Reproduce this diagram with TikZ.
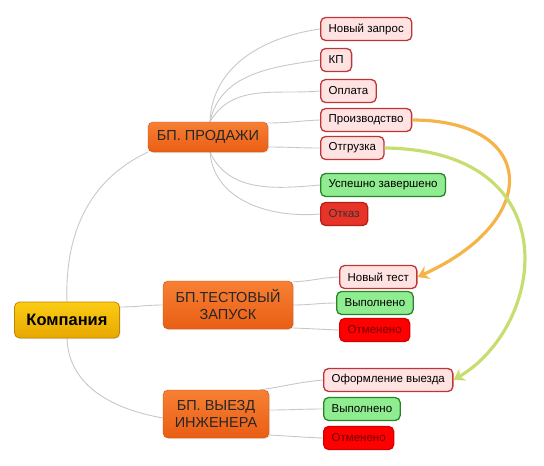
\documentclass[tikz,border=0pt]{standalone}
\usepackage{fontspec}
\setmainfont{Liberation Sans}
\usetikzlibrary{arrows.meta,positioning,backgrounds,shadows}
\definecolor{kgoldt}{RGB}{250,204,20}
\definecolor{kgoldb}{RGB}{232,168,0}
\definecolor{kgoldd}{RGB}{190,135,0}
\definecolor{borgt}{RGB}{246,128,52}
\definecolor{borgb}{RGB}{234,94,20}
\definecolor{borgd}{RGB}{200,80,16}
\definecolor{lpink}{RGB}{255,226,226}
\definecolor{lpinkd}{RGB}{192,52,54}
\definecolor{lgreen}{RGB}{144,236,144}
\definecolor{lgreend}{RGB}{40,132,40}
\definecolor{lred}{RGB}{232,52,40}
\definecolor{lredd}{RGB}{182,30,24}
\definecolor{lcanc}{RGB}{255,0,0}
\definecolor{lcancd}{RGB}{214,0,0}
\definecolor{arrprod}{RGB}{245,180,74}
\definecolor{arrship}{RGB}{198,222,112}
\definecolor{conn}{RGB}{200,200,200}
\tikzset{
  root/.style={draw=kgoldd, top color=kgoldt, bottom color=kgoldb, rounded corners=5pt, thick,
               font=\fontsize{16.5}{18}\selectfont\bfseries, minimum width=105pt, minimum height=36pt,
               inner sep=0pt, drop shadow={shadow xshift=1pt, shadow yshift=-1pt, opacity=0.2}},
  proc/.style={draw=borgd, top color=borgt, bottom color=borgb, rounded corners=5pt,
               font=\fontsize{14.5}{17}\selectfont, text=black!85, align=center, inner sep=0pt,
               drop shadow={shadow xshift=1pt, shadow yshift=-1pt, opacity=0.2}},
  leaf/.style={rounded corners=5pt, line width=1.3pt, font=\fontsize{11.5}{13}\selectfont, anchor=west,
               minimum height=23pt, inner xsep=8pt, inner ysep=0pt},
  todo/.style={leaf, draw=lpinkd, fill=lpink},
  done/.style={leaf, draw=lgreend, fill=lgreen},
  fail/.style={leaf, draw=lredd, fill=lred, text=black!80},
  canc/.style={leaf, draw=lcancd, fill=lcanc, text=black!55!red},
  br/.style={conn, line width=0.9pt},
  jump/.style={-{Stealth[length=11pt,width=14pt,inset=4pt]}, line width=3.2pt},
}

\begin{document}
\begin{tikzpicture}[x=1pt, y=-1pt]
  \useasboundingbox (0,0) rectangle (544,466);
  \node[root] (comp) at (67,320) {Компания};
  \node[proc, minimum width=120pt, minimum height=30pt] (sales) at (208,137) {БП. ПРОДАЖИ};
  \node[proc, minimum width=130pt, minimum height=48pt] (test) at (228,305) {БП.ТЕСТОВЫЙ\\ЗАПУСК};
  \node[proc, minimum width=106pt, minimum height=48pt] (eng) at (216,414) {БП. ВЫЕЗД\\ИНЖЕНЕРА};

  \node[todo] (req) at (320,29) {Новый запрос};
  \node[todo] (kp) at (320,60) {КП};
  \node[todo] (pay) at (320,91) {Оплата};
  \node[todo] (prod) at (320,120) {Производство};
  \node[todo] (ship) at (320,148) {Отгрузка};
  \node[done] (succ) at (320,185) {Успешно завершено};
  \node[fail] (rej) at (320,214) {Отказ};

  \node[todo] (tnew) at (339,277) {Новый тест};
  \node[done] (tdone) at (336,303) {Выполнено};
  \node[canc] (tcanc) at (339,330) {Отменено};

  \node[todo] (edoc) at (323,380) {Оформление выезда};
  \node[done] (edone) at (323,409) {Выполнено};
  \node[canc] (ecanc) at (323,438) {Отменено};

  \begin{scope}[on background layer]
    \draw[br] (comp.north) to[out=92, in=205] (sales.south west);
    \draw[br] ([yshift=13pt]comp.east) to[out=0, in=180] (test.west);
    \draw[br] (comp.south) to[out=-88, in=170] ([yshift=-4pt]eng.west);

    \draw[br] ([xshift=2pt]sales.north) to[out=88, in=188] (req.west);
    \draw[br] ([xshift=2pt]sales.north) to[out=78, in=188] (kp.west);
    \draw[br] ([xshift=2pt]sales.north) to[out=60, in=185] (pay.west);
    \draw[br] ([yshift=14pt]sales.east) to[out=0, in=182] (prod.west);
    \draw[br] ([yshift=-10pt]sales.east) to[out=0, in=180] (ship.west);
    \draw[br] ([xshift=2pt]sales.south) to[out=-65, in=185] (succ.west);
    \draw[br] ([xshift=2pt]sales.south) to[out=-85, in=185] (rej.west);

    \draw[br] ([yshift=-1pt]test.north east) to[out=2, in=182] (tnew.west);
    \draw[br] (test.east) to[out=0, in=180] (tdone.west);
    \draw[br] ([yshift=-23pt]test.east) to[out=-2, in=178] (tcanc.west);

    \draw[br] ([xshift=-9pt]eng.north east) to[out=8, in=185] (edoc.west);
    \draw[br] ([yshift=4pt]eng.east) to[out=0, in=180] (edone.west);
    \draw[br] ([yshift=-21pt]eng.east) to[out=-3, in=178] (ecanc.west);
  \end{scope}

  \draw[jump, arrprod] (prod.east) .. controls +(124,0) and +(126,-57) .. (tnew.east);
  \draw[jump, arrship] (ship.east) .. controls +(185,2) and +(93,-55) .. (edoc.east);
\end{tikzpicture}
\end{document}
